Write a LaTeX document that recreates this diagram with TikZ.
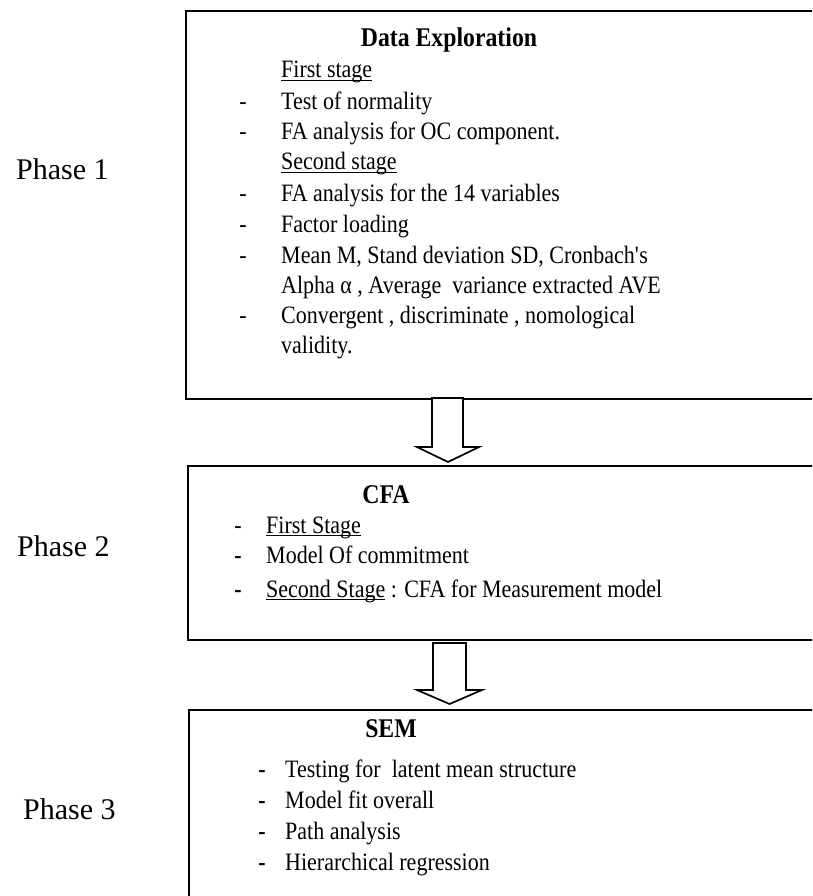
\documentclass[tikz,border=0pt]{standalone}
\usepackage{fontspec}
\setmainfont{Liberation Serif}[FakeStretch=0.88]
\newfontfamily\phasefont{Liberation Serif}
\newcommand{\myul}[1]{\setbox0\hbox{#1}\rlap{\rule[-3.2pt]{\wd0}{1.4pt}}\box0\relax}
\tikzset{
  box/.style={draw, line width=2pt, anchor=north west, inner sep=0pt},
  bodytext/.style={font=\fontsize{25}{30}\selectfont, inner sep=0pt, anchor=base west},
  dashmark/.style={font=\fontsize{25}{30}\selectfont, inner sep=0pt, anchor=base},
  titletext/.style={font=\fontsize{27}{32}\selectfont\bfseries, inner sep=0pt, anchor=base},
  phasetext/.style={font=\phasefont\fontsize{30}{36}\selectfont, inner sep=0pt, anchor=base west},
  blockarrow/.style={draw, line width=1.7pt, fill=white, line join=miter}
}
\begin{document}
\begin{tikzpicture}[x=1pt, y=-1pt]
\path[use as bounding box, clip] (0,0) rectangle (812,896);
\fill[white] (0,0) rectangle (812,896);

% boxes
\node[box, minimum width=640pt, minimum height=388pt] (box1) at (185,10) {};
\node[box, minimum width=640pt, minimum height=174pt] (box2) at (187,465) {};
\node[box, minimum width=640pt, minimum height=250pt] (box3) at (188,709) {};

% block arrows
\draw[blockarrow] (432,398) -- (432,447) -- (417,447) -- (448,462) -- (479,447) -- (463,447) -- (463,398) -- cycle;
\draw[blockarrow] (433,643) -- (433,690) -- (417,690) -- (449.5,704) -- (482,690) -- (466,690) -- (466,643) -- cycle;

% phase labels
\node[phasetext] (ph1) at (16,179) {Phase 1};
\node[phasetext] (ph2) at (17,556) {Phase 2};
\node[phasetext] (ph3) at (23,819) {Phase 3};

% box 1
\node[titletext] (t1) at (449,47) {Data Exploration};
\node[bodytext] (b1a) at (281,78) {\myul{First stage}};
\node[dashmark] (d1b) at (243,110) {-};
\node[bodytext] (b1b) at (281,110) {Test of normality};
\node[dashmark] (d1c) at (243,140) {-};
\node[bodytext] (b1c) at (281,140) {FA analysis for OC component.};
\node[bodytext] (b1d) at (281,170) {\myul{Second stage}};
\node[dashmark] (d1e) at (243,201) {-};
\node[bodytext] (b1e) at (281,201) {FA analysis for the 14 variables};
\node[dashmark] (d1f) at (243,232) {-};
\node[bodytext] (b1f) at (281,232) {Factor loading};
\node[dashmark] (d1g) at (243,263) {-};
\node[bodytext] (b1g) at (281,263) {Mean M, Stand deviation SD, Cronbach\textquotesingle s};
\node[bodytext] (b1h) at (281,293) {Alpha α , Average\ \ variance extracted AVE};
\node[dashmark] (d1i) at (243,323) {-};
\node[bodytext] (b1i) at (281,323) {Convergent , discriminate , nomological};
\node[bodytext] (b1j) at (281,353) {validity.};

% box 2
\node[titletext] (t2) at (386,503) {CFA};
\node[dashmark] (d2a) at (238,533) {-};
\node[bodytext] (b2a) at (266,533) {\myul{First Stage}};
\node[dashmark] (d2b) at (238,563) {\textbf{-}};
\node[bodytext] (b2b) at (266,563) {Model Of commitment};
\node[dashmark] (d2c) at (238,597) {\textbf{-}};
\node[bodytext] (b2c) at (266,597) {\myul{Second Stage} : CFA for Measurement model};

% box 3
\node[titletext] (t3) at (391,737) {SEM};
\node[dashmark] (d3a) at (262,777) {\textbf{-}};
\node[bodytext] (b3a) at (285,777) {Testing for\ \ latent mean structure};
\node[dashmark] (d3b) at (262,808) {\textbf{-}};
\node[bodytext] (b3b) at (285,808) {Model fit overall};
\node[dashmark] (d3c) at (262,839) {\textbf{-}};
\node[bodytext] (b3c) at (285,839) {Path analysis};
\node[dashmark] (d3d) at (262,870) {\textbf{-}};
\node[bodytext] (b3d) at (285,870) {Hierarchical regression};
\end{tikzpicture}
\end{document}
